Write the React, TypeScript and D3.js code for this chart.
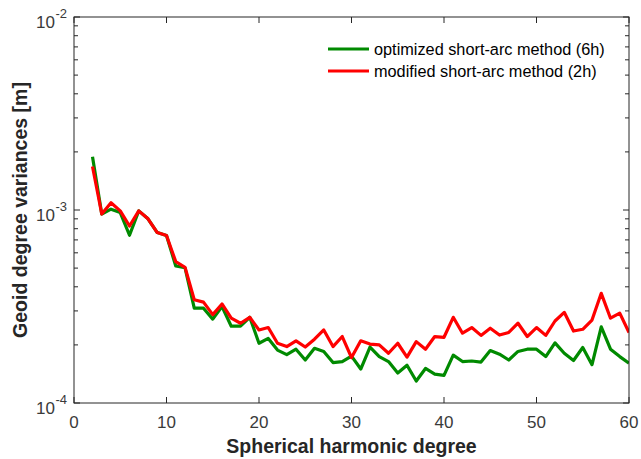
import React from "react";
import * as d3 from "d3";

const degrees: number[] = d3.range(2, 61);

// optimized short-arc method (6h), units 1e-3 m
const optimized6h: number[] = [
  1.89, 0.953, 1.01, 0.97, 0.74, 0.99, 0.9, 0.764, 0.737, 0.513,
  0.502, 0.31, 0.31, 0.272, 0.316, 0.25, 0.25, 0.278, 0.204, 0.216,
  0.188, 0.178, 0.19, 0.167, 0.192, 0.185, 0.162, 0.164, 0.175, 0.15,
  0.195, 0.174, 0.164, 0.143, 0.157, 0.13, 0.151, 0.141, 0.139, 0.177,
  0.164, 0.165, 0.163, 0.187, 0.179, 0.167, 0.185, 0.19, 0.19, 0.174,
  0.205, 0.181, 0.166, 0.194, 0.158, 0.248, 0.19, 0.174, 0.161,
];

// modified short-arc method (2h), units 1e-3 m
const modified2h: number[] = [
  1.68, 0.953, 1.09, 0.99, 0.826, 0.99, 0.9, 0.764, 0.737, 0.54,
  0.505, 0.343, 0.333, 0.287, 0.326, 0.275, 0.259, 0.278, 0.239, 0.246,
  0.204, 0.196, 0.21, 0.195, 0.214, 0.239, 0.196, 0.221, 0.172, 0.21,
  0.202, 0.2, 0.181, 0.204, 0.173, 0.208, 0.19, 0.221, 0.219, 0.278,
  0.23, 0.246, 0.224, 0.244, 0.225, 0.232, 0.259, 0.221, 0.246, 0.224,
  0.266, 0.295, 0.236, 0.241, 0.269, 0.37, 0.275, 0.292, 0.232,
];

const xTicks: number[] = [0, 10, 20, 30, 40, 50, 60];
const yMajor: number[] = [1e-4, 1e-3, 1e-2];
const yExponents: string[] = ["-4", "-3", "-2"];
const seriesNames: string[] = [
  "optimized short-arc method (6h)",
  "modified short-arc method (2h)",
];
const seriesColors: string[] = ["#008a00", "#ff0000"];

export default function App() {
  const W = 641, H = 459;
  const left = 74, right = 629, top = 17, bottom = 403;
  const x = d3.scaleLinear().domain([0, 60]).range([left, right]);
  const y = d3.scaleLog().domain([1e-4, 1e-2]).range([bottom, top]);

  const minor: number[] = [];
  for (const dec of [1e-4, 1e-3]) {
    for (let k = 2; k <= 9; k++) minor.push(dec * k);
  }

  const line = d3
    .line<[number, number]>()
    .x((d) => x(d[0]))
    .y((d) => y(d[1]));

  const series = [optimized6h, modified2h].map((vals) =>
    degrees.map((n, i) => [n, vals[i] * 1e-3] as [number, number])
  );

  const axisColor = "#262626";
  const font = "'Liberation Sans', Arial, Helvetica, sans-serif";

  return (
    <svg
      width={W}
      height={H}
      style={{ position: "absolute", left: 0, top: 0, background: "#fff" }}
      fontFamily={font}
    >
      <rect x={0} y={0} width={W} height={H} fill="#fff" />
      <defs>
        <clipPath id="plotclip">
          <rect x={left} y={top} width={right - left} height={bottom - top} />
        </clipPath>
      </defs>
      <g clipPath="url(#plotclip)">
        {series.map((s, i) => (
          <path
            key={i}
            d={line(s) || ""}
            fill="none"
            stroke={seriesColors[i]}
            strokeWidth={3.2}
            strokeLinejoin="round"
          />
        ))}
      </g>
      <rect
        x={left}
        y={top}
        width={right - left}
        height={bottom - top}
        fill="none"
        stroke={axisColor}
        strokeWidth={1}
      />
      {xTicks.map((t) => (
        <g key={"xt" + t}>
          <line x1={x(t)} x2={x(t)} y1={bottom} y2={bottom - 6} stroke={axisColor} />
          <line x1={x(t)} x2={x(t)} y1={top} y2={top + 6} stroke={axisColor} />
          <text x={x(t)} y={428} textAnchor="middle" fontSize={17} fill="#3a3a3a">
            {t}
          </text>
        </g>
      ))}
      {yMajor.map((v, i) => (
        <g key={"ym" + i}>
          <line x1={left} x2={left + 6} y1={y(v)} y2={y(v)} stroke={axisColor} />
          <line x1={right} x2={right - 6} y1={y(v)} y2={y(v)} stroke={axisColor} />
          <text x={55} y={y(v) + 11} textAnchor="end" fontSize={17} fill="#3a3a3a">
            10
          </text>
          <text x={55.5} y={y(v) + 1} textAnchor="start" fontSize={13} fill="#3a3a3a">
            {yExponents[i]}
          </text>
        </g>
      ))}
      {minor.map((v, i) => (
        <g key={"yn" + i}>
          <line x1={left} x2={left + 4} y1={y(v)} y2={y(v)} stroke={axisColor} />
          <line x1={right} x2={right - 4} y1={y(v)} y2={y(v)} stroke={axisColor} />
        </g>
      ))}
      <text
        x={(left + right) / 2}
        y={453}
        textAnchor="middle"
        fontSize={19.5}
        fontWeight="bold"
        fill={axisColor}
      >
        Spherical harmonic degree
      </text>
      <text
        transform={`translate(26.5, ${(top + bottom) / 2}) rotate(-90)`}
        textAnchor="middle"
        fontSize={19.5}
        fontWeight="bold"
        fill={axisColor}
      >
        Geoid degree variances [m]
      </text>
      {seriesNames.map((name, i) => (
        <g key={"lg" + i}>
          <line
            x1={328}
            x2={369}
            y1={49 + i * 22}
            y2={49 + i * 22}
            stroke={seriesColors[i]}
            strokeWidth={3.2}
          />
          <text x={374} y={49 + i * 22 + 6} fontSize={16.3} fill="#000">
            {name}
          </text>
        </g>
      ))}
    </svg>
  );
}
